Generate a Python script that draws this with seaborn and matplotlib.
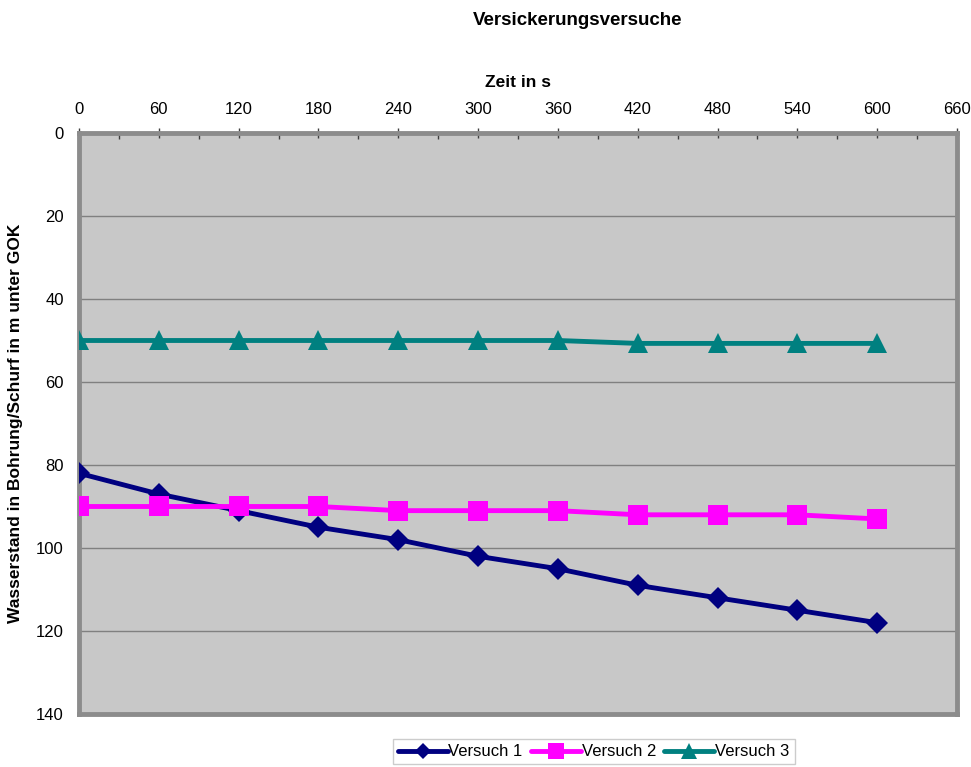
import pandas as pd
import seaborn as sns
import matplotlib.pyplot as plt
from matplotlib.ticker import MultipleLocator

zeit = [0, 60, 120, 180, 240, 300, 360, 420, 480, 540, 600]
versuch_1 = [82, 87, 91, 95, 98, 102, 105, 109, 112, 115, 118]
versuch_2 = [90, 90, 90, 90, 91, 91, 91, 92, 92, 92, 93]
versuch_3 = [50, 50, 50, 50, 50, 50, 50, 50.7, 50.7, 50.7, 50.7]

df = pd.DataFrame({
    'Zeit': zeit * 3,
    'Wasserstand': versuch_1 + versuch_2 + versuch_3,
    'Versuch': ['Versuch 1'] * 11 + ['Versuch 2'] * 11 + ['Versuch 3'] * 11,
})

sns.set_style('white')
plt.rcParams['font.family'] = ['Liberation Sans', 'DejaVu Sans']
plt.rcParams['text.color'] = 'black'
plt.rcParams['xtick.color'] = 'black'
plt.rcParams['ytick.color'] = 'black'
plt.rcParams['axes.labelcolor'] = 'black'

fig = plt.figure(figsize=(9.71, 7.67), dpi=100)
ax = fig.add_axes([0.0814, 0.0691, 0.9042, 0.7575])
ax.set_facecolor('#c8c8c8')

farben = {'Versuch 1': '#000080', 'Versuch 2': '#ff00ff', 'Versuch 3': '#008080'}
marker = {'Versuch 1': 'D', 'Versuch 2': 's', 'Versuch 3': '^'}
groesse = {'Versuch 1': 11, 'Versuch 2': 15, 'Versuch 3': 15}

for name, grp in df.groupby('Versuch'):
    sns.lineplot(data=grp, x='Zeit', y='Wasserstand', ax=ax, color=farben[name],
                 marker=marker[name], markersize=groesse[name], markeredgewidth=0,
                 linewidth=3.5, label=name, zorder=3)

# x-Achse oben, y-Achse umgedreht
ax.set_xlim(0, 660)
ax.set_ylim(140, 0)
ax.xaxis.set_major_locator(MultipleLocator(60))
ax.xaxis.set_minor_locator(MultipleLocator(30))
ax.yaxis.set_major_locator(MultipleLocator(20))
ax.xaxis.tick_top()
ax.xaxis.set_label_position('top')
ax.tick_params(axis='x', which='major', direction='inout', length=7, width=1, color='#404040',
               labelsize=12, pad=8)
ax.tick_params(axis='x', which='minor', direction='in', length=4, width=1, color='#404040')
ax.tick_params(axis='y', direction='out', length=5, width=1, color='#404040', labelsize=12, pad=6)

ax.grid(axis='y', color='#808080', linewidth=1)
ax.grid(axis='x', visible=False)
ax.set_axisbelow(True)

for s in ax.spines.values():
    s.set_color('#8c8c8c')
    s.set_linewidth(3.5)

ax.set_xlabel('Zeit in s', fontsize=12.5, fontweight='bold', labelpad=11)
ax.set_ylabel('Wasserstand in Bohrung/Schurf in m unter GOK', fontsize=12.5, fontweight='bold', labelpad=9)
fig.text(0.595, 0.973, 'Versickerungsversuche', ha='center', va='center', fontsize=13.5, fontweight='bold')

leg = ax.legend(loc='upper center', bbox_to_anchor=(0.586, -0.038), ncol=3, frameon=True,
                fancybox=False, fontsize=12, handlelength=3.0, handletextpad=0.05,
                columnspacing=0.5, borderpad=0.3, borderaxespad=0.2, markerscale=0.75)
leg.get_frame().set_edgecolor('#c0c0c0')
leg.get_frame().set_linewidth(1)

plt.savefig('out.png', dpi=100)
